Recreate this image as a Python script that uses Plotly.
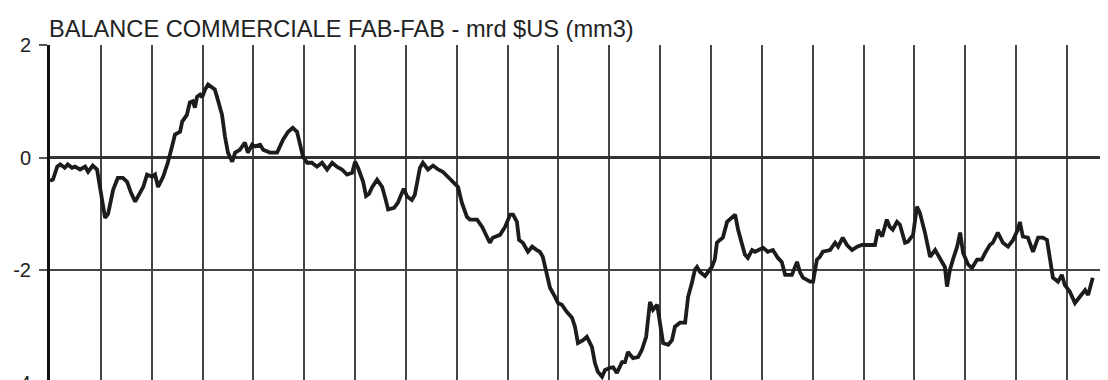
import plotly.graph_objects as go

title_text = "BALANCE COMMERCIALE FAB-FAB - mrd $US (mm3)"

# month index (0 = first month shown); vertical grid every 12 months
months = [
    0, 0.7, 1.7, 2.4, 3.5, 4.2, 5.2, 5.9, 7.1, 8.3, 9.0, 10.1, 11.1, 13.0, 13.7, 14.9,
    16.0, 17.2, 18.2, 19.1, 20.1, 21.0, 22.0, 22.9, 24.1, 24.8, 25.5, 26.7, 27.8, 28.8,
    29.5, 30.7, 31.2, 32.3, 33.0, 33.7, 34.2, 34.7, 35.4, 35.9, 36.6, 37.3, 38.2, 38.9,
    39.6, 40.6, 41.3, 42.0, 43.0, 43.7, 44.8, 46.0, 46.7, 47.7, 48.4, 49.6, 50.3, 51.9,
    53.6, 55.0, 56.2, 57.3, 58.3, 59.0, 59.7, 60.7, 61.8, 63.0, 64.2, 65.4, 66.6, 67.7,
    68.9, 70.1, 71.3, 72.0, 72.7, 73.9, 74.6, 75.3, 76.0, 77.2, 78.4, 79.1, 79.8, 81.2,
    82.1, 83.1, 83.5, 84.3, 85.4, 86.1, 86.6, 87.3, 88.0, 89.2, 90.4, 91.6, 92.7, 93.9,
    95.1, 96.3, 97.2, 98.4, 99.1, 100.8, 102.0, 103.1, 103.8, 104.5, 106.2, 107.4, 108.6,
    109.3, 110.2, 110.7, 111.6, 112.8, 113.8, 114.9, 115.6, 116.3, 117.3, 118.0, 119.2,
    119.9, 120.8, 122.0, 123.2, 123.9, 124.6, 125.8, 126.7, 127.9, 128.6, 129.3, 130.3,
    131.0, 132.2, 132.9, 133.8, 135.0, 135.7, 136.4, 137.6, 138.8, 139.7, 140.7, 141.6,
    142.3, 143.3, 144.0, 144.7, 145.9, 146.8, 147.5, 148.7, 149.9, 150.6, 151.5, 152.2,
    152.7, 153.4, 154.6, 155.3, 156.2, 156.9, 157.4, 158.1, 158.8, 159.8, 161.0, 161.7,
    162.4, 163.3, 164.0, 164.7, 165.7, 166.4, 167.1, 168.3, 169.4, 170.6, 171.8, 172.7,
    173.5, 174.2, 175.1, 176.3, 177.0, 177.7, 179.4, 180.1, 181.0, 181.7, 182.4, 184.1,
    185.3, 186.0, 187.1, 188.1, 189.3, 190.5, 191.6, 193.0, 194.7, 195.4, 196.4, 197.5,
    198.2, 198.9, 199.9, 200.6, 201.8, 202.5, 203.7, 204.6, 205.3, 206.5, 207.7, 208.9,
    210.0, 211.2, 211.7, 212.4, 213.1, 214.1, 214.8, 215.5, 216.7, 217.6, 218.8, 219.9,
    220.7, 221.8, 222.5, 223.7, 224.9, 226.1, 227.3, 228.4, 228.9, 229.6, 230.8, 232.0,
    233.2, 234.3, 235.3, 236.0, 236.7, 237.9, 238.8, 239.5, 240.7, 241.9, 243.1, 244.3,
    245.0, 246.1,
]

balance = [
    -0.41, -0.39, -0.16, -0.12, -0.18, -0.12, -0.18, -0.16, -0.21, -0.16, -0.25, -0.14,
    -0.21, -1.07, -1.00, -0.57, -0.36, -0.36, -0.43, -0.62, -0.78, -0.66, -0.52, -0.30,
    -0.34, -0.30, -0.52, -0.34, -0.09, 0.20, 0.41, 0.46, 0.64, 0.76, 0.98, 1.00, 0.89,
    1.08, 1.12, 1.07, 1.21, 1.30, 1.24, 1.21, 1.03, 0.76, 0.37, 0.09, -0.07, 0.09, 0.14,
    0.27, 0.09, 0.23, 0.20, 0.23, 0.14, 0.09, 0.09, 0.32, 0.46, 0.53, 0.46, 0.20, 0.02,
    -0.09, -0.09, -0.16, -0.09, -0.21, -0.09, -0.16, -0.21, -0.30, -0.27, -0.07, -0.18,
    -0.43, -0.68, -0.64, -0.53, -0.39, -0.52, -0.71, -0.92, -0.89, -0.80, -0.62, -0.55,
    -0.69, -0.75, -0.66, -0.43, -0.18, -0.09, -0.21, -0.14, -0.21, -0.25, -0.34, -0.43,
    -0.52, -0.80, -1.05, -1.10, -1.10, -1.23, -1.42, -1.51, -1.42, -1.37, -1.23, -1.01,
    -1.01, -1.14, -1.46, -1.51, -1.67, -1.58, -1.64, -1.67, -1.76, -2.08, -2.31, -2.47,
    -2.58, -2.61, -2.74, -2.84, -3.00, -3.29, -3.24, -3.18, -3.36, -3.64, -3.80, -3.89,
    -3.77, -3.73, -3.72, -3.82, -3.63, -3.63, -3.45, -3.56, -3.54, -3.41, -3.18, -2.56,
    -2.70, -2.61, -2.93, -3.29, -3.32, -3.24, -3.00, -2.93, -2.93, -2.47, -2.22, -1.99,
    -1.94, -2.03, -2.10, -2.04, -1.94, -1.81, -1.51, -1.46, -1.42, -1.14, -1.05, -1.01,
    -1.28, -1.51, -1.72, -1.78, -1.64, -1.67, -1.64, -1.60, -1.67, -1.64, -1.78, -1.85,
    -2.08, -2.08, -2.08, -1.85, -2.03, -2.13, -2.20, -2.20, -1.81, -1.76, -1.67, -1.64,
    -1.51, -1.58, -1.42, -1.55, -1.64, -1.58, -1.55, -1.55, -1.55, -1.28, -1.40, -1.10,
    -1.23, -1.28, -1.14, -1.19, -1.51, -1.49, -1.37, -0.87, -0.98, -1.33, -1.76, -1.64,
    -1.78, -1.94, -2.29, -1.99, -1.81, -1.58, -1.33, -1.69, -1.90, -1.96, -1.81, -1.81,
    -1.69, -1.55, -1.51, -1.33, -1.51, -1.58, -1.46, -1.28, -1.14, -1.40, -1.42, -1.67,
    -1.42, -1.42, -1.46, -1.76, -2.13, -2.20, -2.08, -2.26, -2.38, -2.58, -2.47, -2.35,
    -2.44, -2.13,
]

y_ticks = [-4, -2, 0, 2]
y_tick_labels = ["-4", "-2", "0", "2"]

fig = go.Figure()
fig.add_trace(go.Scatter(
    x=months, y=balance, mode="lines",
    line=dict(color="#1c1c1c", width=3.8),
    hoverinfo="skip", showlegend=False,
))

# the page body adds an 8px offset, so margins are reduced accordingly
fig.update_layout(
    width=1100, height=375,
    margin=dict(l=42, r=0, t=37, b=0, autoexpand=False),
    paper_bgcolor="white", plot_bgcolor="white",
    font=dict(family="Liberation Sans, Arial, sans-serif", color="#222"),
    annotations=[dict(
        text=title_text, xref="paper", yref="paper", x=0, y=1,
        xanchor="left", yanchor="bottom", xshift=-3, yshift=1, showarrow=False,
        font=dict(size=23.6, color="#222"),
    )],
)

fig.update_xaxes(
    range=[0, 249.7], tick0=0, dtick=12, automargin=False,
    showgrid=True, gridcolor="#444", gridwidth=1.6,
    showticklabels=False, ticks="", zeroline=False, showline=False,
)

fig.update_yaxes(
    range=[-4, 2], tickvals=y_ticks, ticktext=y_tick_labels, automargin=False,
    showgrid=True, gridcolor="#444", gridwidth=1.6,
    zeroline=True, zerolinecolor="#333", zerolinewidth=2.6,
    showline=True, linecolor="#111", linewidth=3,
    ticks="outside", ticklen=8, tickcolor="#555", tickwidth=1.5,
    ticklabelstandoff=4, ticklabeloverflow="allow",
    tickfont=dict(size=20, color="#222"),
)

fig.write_html("out.html")
